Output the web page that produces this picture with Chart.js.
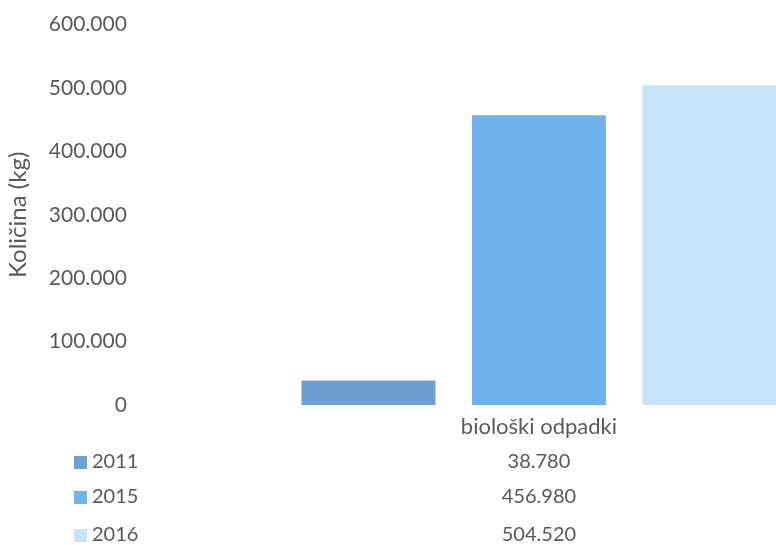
<!DOCTYPE html>
<html>
<head>
<meta charset="utf-8">
<script src="https://cdn.jsdelivr.net/npm/chart.js@4"></script>
<style>
  html, body { margin: 0; padding: 0; overflow: hidden; background: #fff; }
  #wrap { position: relative; width: 935px; height: 545px; }
</style>
</head>
<body>
<div id="wrap"><canvas id="wasteChart"></canvas></div>
<script>
const categories = ["biološki odpadki"];
const years = ["2011", "2015", "2016"];
const values2011 = [38780];
const values2015 = [456980];
const values2016 = [504520];
const yTicks = [0, 100000, 200000, 300000, 400000, 500000, 600000];
const colors = ["#6d9fd3", "#70b2ec", "#c6e3fa"];

const textColor = "#595959";
const fontFamily = "Lato, 'Open Sans', sans-serif";

// Slovenian style thousands separator
const fmt = (v) => String(Math.round(v)).replace(/\B(?=(\d{3})+(?!\d))/g, ".");

const seriesValues = [values2011, values2015, values2016];

// draws the category label and the data table under the plot
const dataTable = {
  id: "dataTable",
  afterDraw(chart) {
    const ctx = chart.ctx;
    const x = chart.scales.x;
    ctx.save();
    ctx.fillStyle = textColor;
    ctx.textBaseline = "middle";
    ctx.textAlign = "center";
    ctx.font = "22px " + fontFamily;
    categories.forEach((c, i) => {
      ctx.fillText(c, x.getPixelForValue(i), 427);
    });
    ctx.font = "20px " + fontFamily;
    const rowY = [462, 497, 535];
    years.forEach((year, r) => {
      ctx.fillStyle = colors[r];
      ctx.fillRect(74, rowY[r] - 6, 13, 13);
      ctx.fillStyle = textColor;
      ctx.textAlign = "left";
      ctx.fillText(year, 92, rowY[r]);
      ctx.textAlign = "center";
      seriesValues[r].forEach((v, i) => {
        ctx.fillText(fmt(v), x.getPixelForValue(i), rowY[r]);
      });
    });
    ctx.restore();
  },
};

new Chart(document.getElementById("wasteChart"), {
  type: "bar",
  data: {
    labels: categories,
    datasets: years.map((year, i) => ({
      label: year,
      data: seriesValues[i],
      backgroundColor: colors[i],
      categoryPercentage: 0.652,
      barPercentage: 0.786,
    })),
  },
  options: {
    responsive: true,
    maintainAspectRatio: false,
    animation: false,
    layout: { padding: { top: 22, bottom: 140, right: 4, left: 0 } },
    plugins: {
      legend: { display: false },
      tooltip: { enabled: false },
    },
    scales: {
      x: {
        display: false,
      },
      y: {
        min: 0,
        max: 600000,
        afterBuildTicks: (axis) => {
          axis.ticks = yTicks.map((v) => ({ value: v }));
        },
        grid: { display: false },
        border: { display: false },
        ticks: {
          padding: 12,
          color: textColor,
          font: { family: fontFamily, size: 21 },
          callback: (v) => fmt(v),
        },
        title: {
          display: true,
          text: "Količina (kg)",
          color: textColor,
          font: { family: fontFamily, size: 24 },
          padding: { top: 4, bottom: 4 },
        },
      },
    },
  },
  plugins: [dataTable],
});
</script>
</body>
</html>
